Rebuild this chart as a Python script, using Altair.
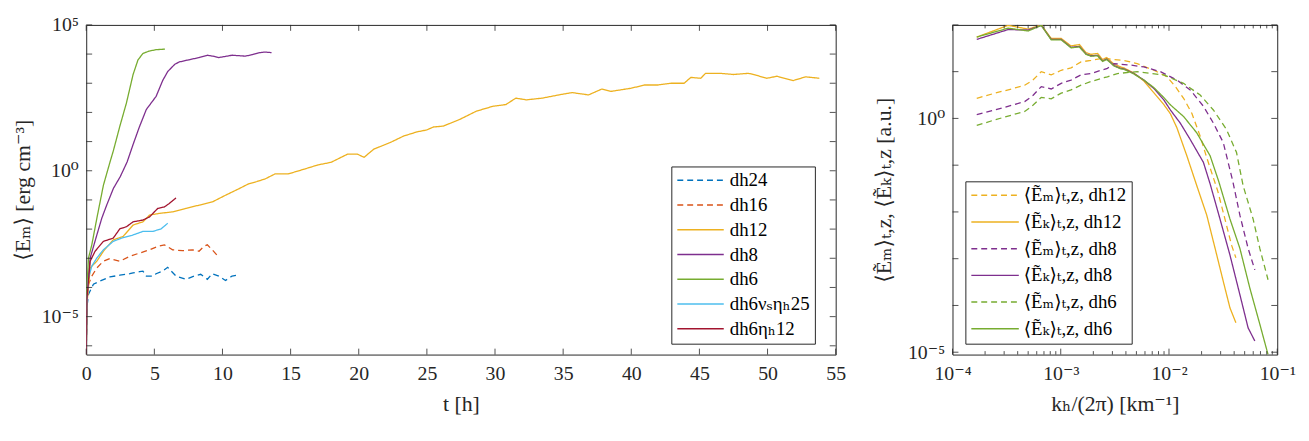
import altair as alt
import pandas as pd

# ---------------- left panel: <E_m>(t), values stored as log10 ----------------
left_names = ["dh24", "dh16", "dh12", "dh8", "dh6", "dh6νₛηₕ25", "dh6ηₕ12"]
left_colors = ["#0072BD", "#D95319", "#EDB120", "#7E2F8E", "#77AC30", "#4DBEEE", "#A2142F"]
left_dash = [[6, 4], [6, 4], [1, 0], [1, 0], [1, 0], [1, 0], [1, 0]]

dh24_t = [0, 0.05, 0.17, 0.53, 1.02, 1.74, 2.47, 3.2, 3.44, 3.92, 4.16, 4.41, 4.89, 5.13, 5.62,
          5.98, 6.59, 7.31, 7.92, 8.4, 8.89, 9.25, 9.73, 10.22, 10.7, 11.07]
dh24_logE = [-6.3, -4.68, -4.23, -3.89, -3.78, -3.64, -3.58, -3.53, -3.5, -3.46, -3.44, -3.61, -3.61,
             -3.53, -3.44, -3.31, -3.61, -3.72, -3.61, -3.55, -3.72, -3.53, -3.61, -3.76, -3.61, -3.58]

dh16_t = [0, 0.05, 0.17, 0.41, 0.78, 1.26, 1.74, 2.47, 3.2, 3.92, 4.65, 5.25, 5.74, 6.34, 7.07,
          7.8, 8.28, 8.64, 8.89, 9.25, 9.61, 9.85]
dh16_logE = [-6.3, -4.5, -3.89, -3.61, -3.33, -3.1, -3.01, -3.1, -2.93, -2.82, -2.71, -2.59, -2.54,
             -2.71, -2.74, -2.71, -2.76, -2.59, -2.54, -2.71, -2.9, -2.9]

dh12_t = [0, 0.05, 0.29, 0.78, 1.26, 1.98, 2.71, 3.44, 4.16, 4.65, 5.38, 6.34, 7.31, 8.28, 9.25,
          10.22, 11.19, 11.91, 12.52, 13.13, 13.85, 14.82, 16.03, 17.0, 17.97, 19.18, 19.9, 20.39,
          21.1, 22.32, 23.29, 24.26, 24.99, 25.48, 26.2, 27.41, 28.62, 29.84, 30.8, 31.53, 32.3,
          33.47, 34.68, 35.65, 36.86, 37.83, 38.5, 40.0, 40.97, 41.94, 42.91, 43.88, 44.37, 45.1,
          45.45, 46.54, 47.5, 48.6, 49.2, 49.93, 50.7, 51.87, 52.8, 53.8]
dh12_logE = [-6.3, -4.6, -3.33, -3.1, -2.76, -2.37, -2.25, -1.86, -1.75, -1.52, -1.46, -1.41, -1.29,
             -1.18, -1.07, -0.84, -0.62, -0.45, -0.37, -0.28, -0.11, -0.11, 0.06, 0.2, 0.29, 0.57,
             0.57, 0.46, 0.74, 0.97, 1.19, 1.33, 1.4, 1.5, 1.53, 1.76, 2.04, 2.21, 2.27, 2.49, 2.43,
             2.49, 2.6, 2.68, 2.6, 2.8, 2.72, 2.83, 2.94, 2.94, 3.0, 3.0, 3.2, 3.17, 3.34, 3.34, 3.3,
             3.34, 3.27, 3.17, 3.24, 3.09, 3.22, 3.17]

dh8_t = [0, 0.05, 0.29, 0.78, 1.14, 1.5, 2.0, 2.5, 3.0, 3.44, 3.9, 4.41, 5.13, 5.62, 5.98, 6.5,
         6.83, 7.5, 8.28, 8.9, 9.4, 9.73, 10.7, 11.67, 12.2, 12.64, 13.1, 13.6]
dh8_logE = [-6.3, -4.3, -2.99, -2.2, -1.63, -1.18, -0.6, -0.2, 0.3, 0.9, 1.5, 2.1, 2.55, 3.1, 3.4,
            3.65, 3.73, 3.8, 3.88, 3.96, 3.92, 3.88, 3.96, 3.93, 3.98, 4.04, 4.07, 4.05]

dh6_t = [0, 0.05, 0.17, 0.41, 0.78, 1.26, 1.74, 2.0, 2.47, 2.95, 3.44, 3.8, 4.16, 4.6, 5.13, 5.78]
dh6_logE = [-6.3, -4.0, -2.99, -2.54, -1.63, -0.5, 0.29, 0.7, 1.53, 2.32, 3.3, 3.8, 4.02, 4.1,
            4.15, 4.17]

dh6nu_t = [0, 0.05, 0.17, 0.41, 0.78, 1.26, 1.98, 2.71, 3.44, 4.16, 4.89, 5.5, 5.98]
dh6nu_logE = [-6.3, -4.5, -3.67, -3.27, -2.99, -2.71, -2.42, -2.29, -2.2, -2.08, -2.08, -1.99, -1.8]

dh6eta_t = [0, 0.05, 0.29, 0.65, 1.26, 1.98, 2.47, 2.95, 3.44, 4.16, 4.65, 5.25, 5.74, 6.1, 6.59]
dh6eta_logE = [-6.3, -4.4, -3.1, -2.76, -2.42, -2.31, -1.99, -1.92, -1.75, -1.69, -1.58, -1.29,
               -1.24, -1.12, -0.93]

left_series = [
    (dh24_t, dh24_logE), (dh16_t, dh16_logE), (dh12_t, dh12_logE), (dh8_t, dh8_logE),
    (dh6_t, dh6_logE), (dh6nu_t, dh6nu_logE), (dh6eta_t, dh6eta_logE),
]
rows = []
for name, (ts, ls) in zip(left_names, left_series):
    for i, (t, l) in enumerate(zip(ts, ls)):
        rows.append({"run": name, "t": t, "E": 10.0 ** l, "i": i})
df_left = pd.DataFrame(rows)

left_xticks = [0, 5, 10, 15, 20, 25, 30, 35, 40, 45, 50, 55]
left_yticks = [1e-6, 1e-5, 1e-4, 1e-3, 1e-2, 1e-1, 1, 1e1, 1e2, 1e3, 1e4, 1e5]
left_ylabels = [1e-5, 1, 1e5]

# ---------------- right panel: spectra, log10 k and log10 E ----------------
right_names = ["⟨Ẽₘ⟩ₜ,z, dh12", "⟨Ẽₖ⟩ₜ,z, dh12", "⟨Ẽₘ⟩ₜ,z, dh8",
               "⟨Ẽₖ⟩ₜ,z, dh8", "⟨Ẽₘ⟩ₜ,z, dh6", "⟨Ẽₖ⟩ₜ,z, dh6"]
right_colors = ["#EDB120", "#EDB120", "#7E2F8E", "#7E2F8E", "#77AC30", "#77AC30"]
right_dash = [[6, 4], [1, 0], [6, 4], [1, 0], [6, 4], [1, 0]]

em12_logk = [-3.776, -3.608, -3.455, -3.333, -3.257, -3.18, -3.088, -2.996, -2.905, -2.813, -2.72,
             -2.6, -2.507, -2.416, -2.294, -2.14, -2.018, -1.941, -1.865, -1.789, -1.712, -1.651,
             -1.55, -1.468, -1.422, -1.382]
em12_logE = [0.43, 0.54, 0.63, 0.71, 0.82, 1.0, 0.93, 1.03, 1.08, 1.21, 1.24, 1.29, 1.26, 1.24,
             1.17, 1.03, 0.89, 0.68, 0.43, 0.11, -0.38, -0.84, -1.55, -2.29, -2.71, -2.98]

ek12_logk = [-3.776, -3.486, -3.30, -3.18, -3.088, -2.996, -2.905, -2.828, -2.767, -2.721, -2.66,
             -2.614, -2.575, -2.507, -2.446, -2.416, -2.324, -2.232, -2.14, -2.049, -1.987, -1.927,
             -1.835, -1.743, -1.651, -1.574, -1.498, -1.437, -1.382]
ek12_logE = [1.74, 1.99, 1.91, 2.0, 1.71, 1.71, 1.55, 1.58, 1.41, 1.37, 1.39, 1.26, 1.30, 1.16, 1.10,
             1.08, 0.97, 0.80, 0.55, 0.30, 0.10, -0.20, -0.80, -1.44, -2.07, -2.78, -3.49, -4.05,
             -4.37]

em8_logk = [-3.776, -3.608, -3.455, -3.333, -3.257, -3.18, -3.088, -2.996, -2.905, -2.813, -2.72,
            -2.629, -2.569, -2.507, -2.354, -2.232, -2.079, -1.927, -1.804, -1.682, -1.59, -1.498,
            -1.41, -1.345, -1.269, -1.207]
em8_logE = [0.08, 0.18, 0.28, 0.36, 0.49, 0.68, 0.63, 0.75, 0.82, 0.93, 0.96, 1.03, 1.07, 1.17,
            1.14, 1.10, 1.0, 0.82, 0.61, 0.26, -0.1, -0.52, -1.35, -2.07, -2.78, -3.24]

ek8_logk = [-3.776, -3.486, -3.30, -3.18, -3.088, -2.996, -2.905, -2.828, -2.767, -2.721, -2.66,
            -2.614, -2.575, -2.507, -2.446, -2.416, -2.324, -2.232, -2.14, -2.049, -1.987, -1.896,
            -1.804, -1.682, -1.62, -1.529, -1.437, -1.345, -1.269, -1.207]
ek8_logE = [1.69, 1.90, 1.89, 1.99, 1.69, 1.69, 1.52, 1.54, 1.38, 1.34, 1.35, 1.23, 1.27, 1.13, 1.07,
            1.06, 0.96, 0.82, 0.64, 0.40, 0.18, -0.10, -0.45, -0.94, -1.40, -2.15, -2.92, -3.77,
            -4.48, -4.76]

em6_logk = [-3.776, -3.608, -3.455, -3.333, -3.257, -3.18, -3.088, -2.996, -2.905, -2.813, -2.72,
            -2.6, -2.569, -2.477, -2.294, -2.049, -1.865, -1.712, -1.59, -1.468, -1.376, -1.315,
            -1.223, -1.161, -1.085]
em6_logE = [-0.15, -0.03, 0.07, 0.15, 0.28, 0.45, 0.42, 0.54, 0.61, 0.71, 0.79, 0.87, 0.89, 0.96,
            1.0, 0.93, 0.75, 0.50, 0.18, -0.24, -0.73, -1.44, -2.15, -2.78, -3.45]

ek6_logk = [-3.776, -3.486, -3.30, -3.18, -3.088, -2.996, -2.905, -2.828, -2.767, -2.721, -2.66,
            -2.614, -2.575, -2.507, -2.446, -2.416, -2.324, -2.232, -2.14, -2.049, -1.987, -1.865,
            -1.743, -1.62, -1.54, -1.437, -1.345, -1.253, -1.161, -1.085]
ek6_logE = [1.74, 1.93, 1.87, 1.99, 1.68, 1.68, 1.51, 1.53, 1.37, 1.33, 1.34, 1.22, 1.26, 1.12, 1.06,
            1.05, 0.95, 0.82, 0.66, 0.45, 0.29, 0.04, -0.31, -0.80, -1.35, -2.15, -2.78, -3.63,
            -4.40, -5.05]

right_series = [(em12_logk, em12_logE), (ek12_logk, ek12_logE), (em8_logk, em8_logE),
                (ek8_logk, ek8_logE), (em6_logk, em6_logE), (ek6_logk, ek6_logE)]
rows = []
for name, (ks, ls) in zip(right_names, right_series):
    for i, (k, l) in enumerate(zip(ks, ls)):
        rows.append({"spec": name, "k": 10.0 ** k, "S": 10.0 ** l, "i": i})
df_right = pd.DataFrame(rows)

right_xmajor = [1e-4, 1e-3, 1e-2, 1e-1]
right_xminor = [m * 10.0 ** e for e in (-4, -3, -2) for m in range(2, 10)]
right_yticks = [1e-5, 1e-4, 1e-3, 1e-2, 1e-1, 1, 1e1, 1e2]
right_ylabels = [1e-5, 1]

# ---------------- styling ----------------
FONT = "Liberation Serif, DejaVu Serif, serif"
AX = "#262626"
LW, LH = 757, 333
RW, RH = 328, 333

sup_expr_y = ("datum.value < 1e-3 ? '10⁻⁵' : datum.value < 10 ? '10⁰' : '10⁵'")
sup_expr_k = ("datum.value < 5e-4 ? '10⁻⁴' : datum.value < 5e-3 ? '10⁻³' : "
              "datum.value < 5e-2 ? '10⁻²' : '10⁻¹'")

lx_axis = alt.Axis(values=left_xticks, title="t [h]", labelFontSize=20, titleFontSize=22,
                   labelPadding=9, titlePadding=10, ticks=False, domain=False, grid=False,
                   labelFlush=False)
ly_axis = alt.Axis(values=left_ylabels, labelExpr=sup_expr_y, title="⟨Eₘ⟩ [erg cm⁻³]",
                   labelFontSize=20, titleFontSize=22, labelPadding=8, titlePadding=7,
                   ticks=False, domain=False, grid=False, labelFlush=False)
lx_scale = alt.Scale(domain=[0, 55], nice=False, zero=False)
ly_scale = alt.Scale(type="log", domain=[5e-7, 1e5], nice=False)

leg_left = alt.Legend(orient="none", legendX=591, legendY=143, title=None, symbolType="stroke",
                      symbolSize=2200, symbolStrokeWidth=1.5, labelFont=FONT, labelFontSize=19,
                      labelOffset=5, rowPadding=6, padding=5, strokeColor=AX, fillColor="white",
                      labelColor="black", clipHeight=18)

lines_l = alt.Chart(df_left).mark_line(strokeWidth=1.3, clip=True).encode(
    x=alt.X("t:Q", scale=lx_scale, axis=lx_axis),
    y=alt.Y("E:Q", scale=ly_scale, axis=ly_axis),
    color=alt.Color("run:N", scale=alt.Scale(domain=left_names, range=left_colors), legend=leg_left),
    strokeDash=alt.StrokeDash("run:N", scale=alt.Scale(domain=left_names, range=left_dash),
                              legend=leg_left),
    order="i:Q",
)

lxt = pd.DataFrame({"t": left_xticks})
lyt = pd.DataFrame({"E": left_yticks})
tick_b = alt.Chart(lxt).mark_rule(color=AX, strokeWidth=0.8).encode(
    x=alt.X("t:Q", scale=lx_scale, axis=lx_axis), y=alt.value(LH), y2=alt.value(LH - 6))
tick_t = alt.Chart(lxt).mark_rule(color=AX, strokeWidth=0.8).encode(
    x=alt.X("t:Q", scale=lx_scale, axis=lx_axis), y=alt.value(0), y2=alt.value(6))
tick_l = alt.Chart(lyt).mark_rule(color=AX, strokeWidth=0.8).encode(
    y=alt.Y("E:Q", scale=ly_scale, axis=ly_axis), x=alt.value(0), x2=alt.value(6))
tick_r = alt.Chart(lyt).mark_rule(color=AX, strokeWidth=0.8).encode(
    y=alt.Y("E:Q", scale=ly_scale, axis=ly_axis), x=alt.value(LW), x2=alt.value(LW - 6))

left = alt.layer(lines_l, tick_b, tick_t, tick_l, tick_r).properties(width=LW, height=LH)

rx_axis = alt.Axis(values=right_xmajor, labelExpr=sup_expr_k, title="kₕ/(2π) [km⁻¹]",
                   labelFontSize=20, titleFontSize=22, labelPadding=9, titlePadding=10,
                   ticks=False, domain=False, grid=False, labelFlush=False)
ry_axis = alt.Axis(values=right_ylabels, labelExpr=sup_expr_y,
                   title="⟨Ẽₘ⟩ₜ,z, ⟨Ẽₖ⟩ₜ,z [a.u.]", labelFontSize=20, titleFontSize=22,
                   labelPadding=8, titlePadding=12, ticks=False, domain=False, grid=False,
                   labelFlush=False)
rx_scale = alt.Scale(type="log", domain=[1e-4, 1e-1], nice=False)
ry_scale = alt.Scale(type="log", domain=[8.9e-6, 1e2], nice=False)

leg_right = alt.Legend(orient="none", legendX=13, legendY=158, title=None, symbolType="stroke",
                       symbolSize=2300, symbolStrokeWidth=1.5, labelFont=FONT, labelFontSize=19,
                       labelOffset=4, rowPadding=8, padding=5, strokeColor=AX, fillColor="white",
                       labelColor="black", clipHeight=18)

lines_r = alt.Chart(df_right).mark_line(strokeWidth=1.3, clip=True).encode(
    x=alt.X("k:Q", scale=rx_scale, axis=rx_axis),
    y=alt.Y("S:Q", scale=ry_scale, axis=ry_axis),
    color=alt.Color("spec:N", scale=alt.Scale(domain=right_names, range=right_colors),
                    legend=leg_right),
    strokeDash=alt.StrokeDash("spec:N", scale=alt.Scale(domain=right_names, range=right_dash),
                              legend=leg_right),
    order="i:Q",
)

rxM = pd.DataFrame({"k": right_xmajor})
rxm = pd.DataFrame({"k": right_xminor})
ryt = pd.DataFrame({"S": right_yticks})
r_layers = [lines_r]
for dfk, ln in ((rxM, 6), (rxm, 3.5)):
    r_layers.append(alt.Chart(dfk).mark_rule(color=AX, strokeWidth=0.8).encode(
        x=alt.X("k:Q", scale=rx_scale, axis=rx_axis), y=alt.value(RH), y2=alt.value(RH - ln)))
    r_layers.append(alt.Chart(dfk).mark_rule(color=AX, strokeWidth=0.8).encode(
        x=alt.X("k:Q", scale=rx_scale, axis=rx_axis), y=alt.value(0), y2=alt.value(ln)))
r_layers.append(alt.Chart(ryt).mark_rule(color=AX, strokeWidth=0.8).encode(
    y=alt.Y("S:Q", scale=ry_scale, axis=ry_axis), x=alt.value(0), x2=alt.value(6)))
r_layers.append(alt.Chart(ryt).mark_rule(color=AX, strokeWidth=0.8).encode(
    y=alt.Y("S:Q", scale=ry_scale, axis=ry_axis), x=alt.value(RW), x2=alt.value(RW - 6)))

right = alt.layer(*r_layers).properties(width=RW, height=RH)

chart = alt.hconcat(left, right, spacing=25).resolve_scale(
    color="independent", strokeDash="independent", x="independent", y="independent"
).properties(
    padding={"left": 2, "top": 4, "right": 5, "bottom": 2}, background="white"
).configure_view(stroke=AX, strokeWidth=1).configure_axis(
    labelFont=FONT, titleFont=FONT, labelColor="#262626", titleColor="#262626",
    titleFontWeight="normal"
)

chart.save("out.html", embed_options={"renderer": "svg", "actions": False})
